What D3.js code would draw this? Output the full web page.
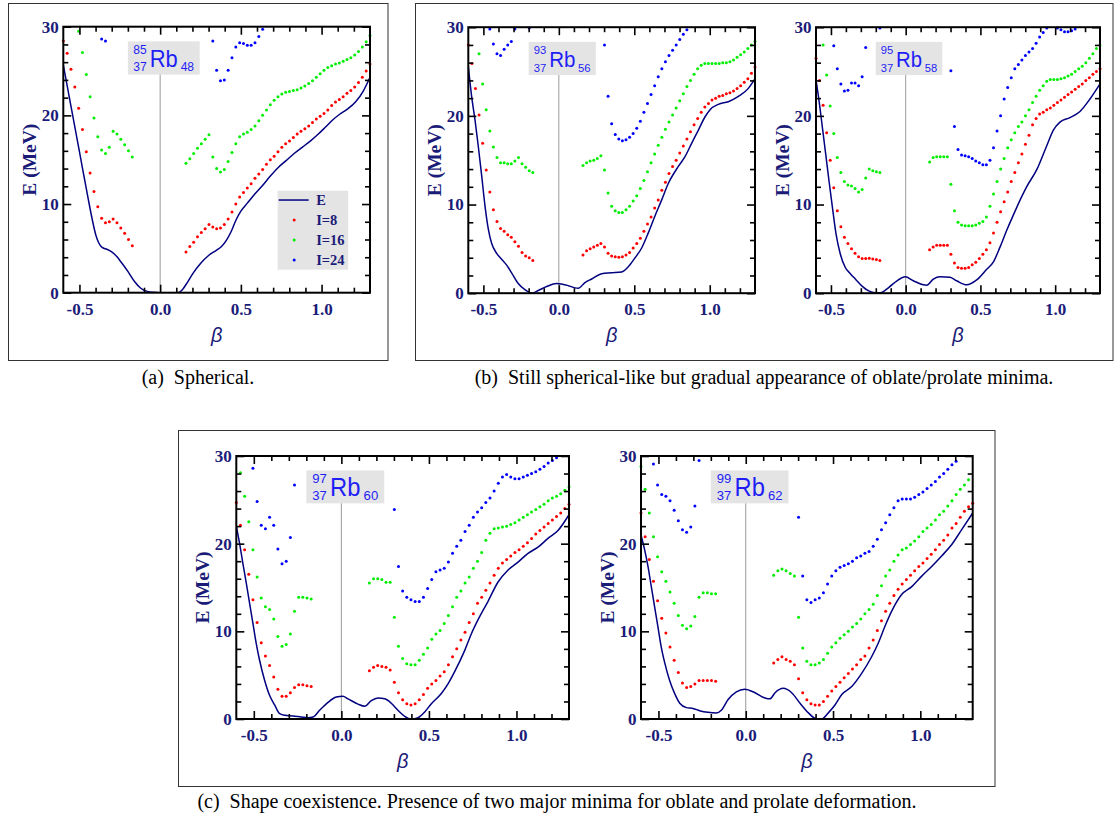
<!DOCTYPE html>
<html>
<head>
<meta charset="utf-8">
<script src="https://cdn.jsdelivr.net/npm/d3@7"></script>
<style>
  body { margin: 0; background: #fff; }
  svg { display: block; }
</style>
</head>
<body>
<script>
// ---------------------------------------------------------------
// Deformation-energy curves E(beta) and rotational bands I=8,16,24
// for the rubidium isotopes 85,93,95,97,99Rb.
// Points of the bands sit on a uniform beta grid:
//   beta_i = BETA_MIN + i * BETA_STEP   (i = 0..80)
// Each band branch is given as the first grid index and its energies.
// ---------------------------------------------------------------
const BETA_MIN = -0.6;
const BETA_STEP = 0.02375;

const betaDomain = [-0.6, 1.3];
const energyDomain = [0, 30];
const betaMajorTicks = [-0.5, 0.0, 0.5, 1.0];
const betaMinorTicks = [-0.4, -0.3, -0.2, -0.1, 0.1, 0.2, 0.3, 0.4, 0.6, 0.7, 0.8, 0.9, 1.1, 1.2];
const energyMajorTicks = [0, 10, 20, 30];
const energyMinorTicks = [2, 4, 6, 8, 12, 14, 16, 18, 22, 24, 26, 28];
const legendLabels = ["E", "I=8", "I=16", "I=24"];

// ---- 85Rb (N = 48) ----
const rb85_E = [[-0.60,25.7],[-0.55,20.8],[-0.50,15.9],[-0.45,11.0],[-0.42,8.2],[-0.40,6.6],[-0.38,5.6],[-0.36,5.1],[-0.33,4.9],[-0.30,4.6],[-0.27,4.1],[-0.24,3.4],[-0.20,2.4],[-0.16,1.3],[-0.12,0.5],[-0.08,0.15],[-0.04,0.05],[0.00,0.0],[0.05,0.0],[0.11,0.0],[0.14,0.4],[0.17,1.2],[0.20,2.1],[0.25,3.3],[0.30,4.2],[0.35,4.8],[0.38,5.2],[0.41,5.9],[0.44,6.9],[0.47,8.2],[0.50,9.2],[0.54,10.1],[0.58,11.0],[0.63,12.0],[0.68,13.1],[0.73,14.1],[0.78,14.9],[0.83,15.7],[0.88,16.4],[0.93,17.1],[0.98,17.9],[1.02,18.6],[1.07,19.5],[1.11,20.1],[1.16,20.7],[1.21,21.5],[1.26,22.8],[1.30,24.3]];
const rb85_I8 = [
  { from: 0, E: [28.4,27.0,25.2,23.2,20.8,18.4,15.9,13.5,11.4,9.7,8.4,7.9,8.0,8.3,7.9,7.3,6.7,6.0,5.3] },
  { from: 32, E: [4.6,5.2,5.7,6.3,6.8,7.2,7.7,7.4,7.2,7.3,7.7,8.3,9.1,10.0,10.8,11.3,11.8,12.3,12.9,13.4,13.9,14.5,15.0,15.4,15.9,16.4,16.8,17.1,17.5,17.9,18.2,18.5,18.8,19.2,19.6,19.9,20.2,20.6,21.1,21.5,21.8,22.1,22.5,22.8,23.2,23.7,24.3,25.0,25.8] }
];
const rb85_I16 = [
  { from: 4, E: [29.5,27.1,24.6,22.1,19.7,17.6,16.1,15.7,16.4,18.2,17.9,17.3,16.7,16.0,15.3] },
  { from: 32, E: [14.6,15.1,15.7,16.3,16.8,17.3,17.8,15.3,14.0,13.6,13.9,14.8,15.8,16.8,17.6,17.9,18.1,18.4,18.8,19.4,20.0,20.6,21.2,21.7,22.1,22.4,22.6,22.7,22.8,22.9,23.1,23.3,23.6,23.9,24.3,24.7,25.1,25.4,25.6,25.8,25.9,26.1,26.3,26.5,26.8,27.2,27.7,28.3,29.0] }
];
const rb85_I24 = [
  { from: 10, E: [28.6,28.4] },
  { from: 39, E: [28.4,25.1,23.9,24.0,25.1,26.5,27.7,28.2,28.1,27.9,27.9,28.2,28.9,29.7] }
];

// ---- 93Rb (N = 56) ----
const rb93_E = [[-0.600,25.6],[-0.578,22.2],[-0.556,19.6],[-0.534,16.6],[-0.511,13.2],[-0.489,9.8],[-0.467,7.2],[-0.445,5.6],[-0.412,4.5],[-0.378,3.8],[-0.347,3.2],[-0.313,2.3],[-0.269,1.1],[-0.225,0.4],[-0.180,0.0],[-0.137,0.3],[-0.081,0.75],[-0.015,1.1],[0.063,0.85],[0.107,0.6],[0.129,0.56],[0.173,1.2],[0.218,1.6],[0.284,2.2],[0.350,2.3],[0.416,2.4],[0.461,3.0],[0.505,4.0],[0.549,5.1],[0.593,6.8],[0.637,8.7],[0.681,10.5],[0.726,12.4],[0.792,14.3],[0.836,15.4],[0.880,16.9],[0.925,18.4],[0.969,19.9],[1.002,20.7],[1.057,21.3],[1.123,21.6],[1.190,22.2],[1.256,23.1],[1.300,24.2]];
const rb93_I8 = [
  { from: 0, E: [28.0,25.9,23.1,20.1,16.9,13.9,11.4,9.4,8.1,7.3,7.0,6.6,6.3,5.8,5.3,4.6,4.2,4.0,3.7] },
  { from: 32, E: [4.3,4.8,5.0,5.2,5.4,5.6,5.2,4.5,4.2,4.1,4.05,4.1,4.3,4.6,5.1,5.6,6.2,7.0,7.8,8.6,9.6,10.5,11.6,12.5,13.5,14.3,15.0,15.8,16.6,17.4,18.2,19.0,19.7,20.4,21.0,21.4,21.8,22.0,22.2,22.3,22.5,22.6,22.8,23.1,23.4,23.8,24.2,24.8,25.5] }
];
const rb93_I16 = [
  { from: 3, E: [27.0,23.6,20.7,18.3,16.5,15.3,14.7,14.7,14.6,14.6,14.9,15.3,14.6,14.2,13.8,13.6] },
  { from: 32, E: [14.4,14.7,14.9,15.0,15.2,15.5,13.9,11.3,9.8,9.3,9.1,9.1,9.4,9.8,10.4,11.0,11.8,12.7,13.7,14.7,15.7,16.7,17.6,18.5,19.3,20.1,20.9,21.7,22.5,23.3,24.0,24.7,25.3,25.7,25.9,25.9,25.9,25.9,25.9,26.0,26.0,26.1,26.3,26.6,26.9,27.2,27.6,28.0,28.4] }
];
const rb93_I24 = [
  { from: 6, E: [29.8,28.1,27.0,26.8,27.5,28.0,28.4,29.8] },
  { from: 17, E: [29.9] },
  { from: 38, E: [28.0,22.2,19.1,17.9,17.4,17.2,17.3,17.6,18.0,18.6,19.4,20.4,21.4,22.4,23.4,24.4,25.3,26.1,26.8,27.4,28.0,28.6,29.2,29.7] }
];

// ---- 95Rb (N = 58) ----
const rb95_E = [[-0.600,24.1],[-0.578,21.5],[-0.555,18.4],[-0.533,15.4],[-0.511,12.4],[-0.488,9.4],[-0.466,6.7],[-0.437,4.4],[-0.404,2.9],[-0.370,2.2],[-0.337,1.6],[-0.292,0.8],[-0.248,0.26],[-0.203,0.05],[-0.170,0.05],[-0.114,0.64],[-0.058,1.4],[-0.003,1.85],[0.051,1.4],[0.118,0.95],[0.140,0.9],[0.185,1.6],[0.230,1.86],[0.297,1.8],[0.341,1.4],[0.408,0.95],[0.475,1.5],[0.542,2.7],[0.586,3.5],[0.631,5.2],[0.676,7.1],[0.720,8.8],[0.765,10.5],[0.809,12.0],[0.876,13.9],[0.943,16.6],[0.988,18.4],[1.032,19.3],[1.099,19.8],[1.166,20.5],[1.233,21.9],[1.300,23.6]];
const rb95_I8 = [
  { from: 0, E: [26.5,24.0,21.2,18.1,15.0,11.9,9.3,7.5,6.3,5.6,5.0,4.5,4.1,3.9,3.9,3.95,3.85,3.8,3.7] },
  { from: 32, E: [4.9,5.2,5.4,5.4,5.4,5.4,4.4,3.4,2.9,2.8,2.8,2.9,3.2,3.5,3.9,4.4,4.9,5.7,6.8,8.0,9.2,10.3,11.4,12.6,13.6,14.7,15.7,16.8,17.8,19.0,19.7,20.2,20.4,20.7,20.9,21.2,21.5,21.8,22.1,22.4,22.7,23.0,23.3,23.6,24.0,24.3,24.7,25.0,25.3] }
];
const rb95_I16 = [
  { from: 2, E: [28.0,24.6,21.1,18.0,15.3,13.6,12.6,12.2,12.1,11.8,11.4,11.7,13.0,14.0,13.8,13.7,13.6] },
  { from: 32, E: [14.8,15.3,15.4,15.4,15.4,15.4,12.3,9.3,8.0,7.7,7.6,7.6,7.6,7.7,7.9,8.1,8.6,9.8,11.2,12.6,14.0,15.2,16.4,17.3,18.1,18.8,19.3,20.0,20.7,21.5,22.2,22.9,23.4,23.9,24.1,24.1,24.1,24.2,24.3,24.5,24.7,25.0,25.3,25.6,26.0,26.5,27.0,27.6,28.0] }
];
const rb95_I24 = [
  { from: 5, E: [27.9,25.3,23.6,22.8,22.9,23.7,23.7,23.4,24.4,27.7] },
  { from: 18, E: [29.9] },
  { from: 38, E: [25.1,18.8,16.2,15.6,15.5,15.4,15.2,14.9,14.7,14.5,14.5,15.0,16.4,18.3,20.0,21.9,23.2,24.3,25.3,25.8,26.3,26.8,27.2,27.6,28.2,28.9,29.4,29.9] },
  { from: 68, E: [29.9,29.7,29.5,29.5,29.6,29.8] }
];

// ---- 97Rb (N = 60) ----
const rb97_E = [[-0.600,22.0],[-0.581,20.0],[-0.562,17.7],[-0.543,15.5],[-0.524,13.2],[-0.505,10.9],[-0.486,8.6],[-0.467,6.7],[-0.438,4.4],[-0.410,2.7],[-0.381,1.6],[-0.352,0.6],[-0.324,0.42],[-0.276,0.35],[-0.229,0.23],[-0.191,0.15],[-0.162,0.23],[-0.124,1.0],[-0.076,1.9],[-0.029,2.5],[0.009,2.6],[0.038,2.3],[0.095,1.7],[0.133,1.45],[0.171,2.1],[0.209,2.4],[0.248,2.3],[0.285,1.8],[0.323,1.0],[0.362,0.3],[0.400,0.0],[0.438,0.15],[0.476,0.8],[0.514,1.75],[0.571,2.9],[0.609,4.0],[0.647,5.4],[0.704,7.8],[0.742,9.7],[0.780,11.3],[0.837,13.4],[0.894,15.6],[0.952,17.0],[1.009,17.9],[1.066,18.9],[1.123,19.6],[1.180,20.6],[1.237,21.5],[1.300,23.3]];
const rb97_I8 = [
  { from: 0, E: [24.7,22.1,19.3,16.5,13.6,11.0,8.7,7.2,6.1,4.8,3.4,2.6,2.6,3.0,3.6,3.9,3.9,3.8,3.7] },
  { from: 32, E: [5.5,5.9,6.1,6.0,5.9,5.6,4.2,3.0,2.2,1.75,1.6,1.75,2.2,2.8,3.5,4.0,4.4,4.9,5.4,6.2,7.1,8.0,9.0,9.9,11.0,12.0,13.2,13.9,14.7,15.5,16.4,17.2,17.8,18.2,18.6,19.0,19.3,19.7,20.1,20.6,21.1,21.5,21.9,22.3,22.7,23.1,23.5,24.0,24.5] }
];
const rb97_I16 = [
  { from: 1, E: [28.1,25.4,22.5,19.3,16.2,13.8,12.8,12.5,11.4,9.4,8.3,8.5,9.7,12.3,13.9,13.9,13.8,13.7] },
  { from: 32, E: [15.5,16.0,16.0,15.9,15.6,15.6,11.6,8.3,6.9,6.3,6.2,6.2,6.7,7.4,8.1,9.1,9.7,10.1,10.9,11.8,12.8,13.9,14.6,15.5,16.2,17.2,18.0,19.0,20.4,21.2,21.7,21.8,21.9,22.0,22.2,22.4,22.7,23.0,23.3,23.6,23.9,24.2,24.5,24.9,25.2,25.4,25.7,26.1,26.5] }
];
const rb97_I24 = [
  { from: 4, E: [28.6,24.8,22.1,21.7,23.0,22.1,19.4,17.7,18.0,20.7,26.7] },
  { from: 38, E: [23.9,17.4,14.6,13.9,13.6,13.4,13.4,13.9,14.9,15.9,16.8,17.0,17.2,17.9,18.9,19.7,20.4,21.4,22.1,23.0,23.6,24.1,24.7,25.2,26.0,26.9,27.6,27.9,27.6,27.4,27.4,27.6,27.8,28.0,28.2,28.5,28.8,29.2,29.5,29.8] }
];

// ---- 99Rb (N = 62) ----
const rb99_E = [[-0.600,21.0],[-0.579,19.3],[-0.560,17.4],[-0.541,15.1],[-0.522,12.8],[-0.503,10.5],[-0.484,8.2],[-0.464,6.4],[-0.436,4.4],[-0.407,2.9],[-0.378,1.8],[-0.340,1.3],[-0.302,1.2],[-0.264,0.95],[-0.217,0.76],[-0.169,0.68],[-0.140,1.0],[-0.102,2.2],[-0.054,3.1],[-0.006,3.4],[0.053,3.0],[0.110,2.4],[0.139,2.3],[0.168,3.0],[0.215,3.5],[0.263,3.0],[0.311,1.8],[0.359,0.7],[0.397,0.1],[0.435,0.0],[0.473,0.7],[0.511,1.6],[0.550,2.8],[0.607,3.7],[0.664,5.2],[0.721,7.1],[0.760,8.7],[0.798,10.6],[0.836,12.3],[0.893,14.2],[0.951,15.1],[1.008,16.3],[1.065,17.4],[1.122,18.6],[1.180,19.9],[1.237,21.6],[1.300,23.5]];
const rb99_I8 = [
  { from: 0, E: [23.5,20.8,18.2,15.7,13.5,11.5,9.8,8.2,6.7,5.3,4.1,3.6,3.7,4.0,4.4,4.4,4.4,4.4,4.3] },
  { from: 32, E: [6.4,6.8,7.1,6.8,6.6,6.2,4.6,3.0,2.2,1.75,1.6,1.6,2.0,2.6,3.2,3.7,4.2,4.7,5.2,5.7,6.2,6.8,7.2,8.1,9.0,10.1,11.2,12.3,13.2,14.1,14.8,15.4,15.9,16.4,16.9,17.4,17.8,18.3,18.8,19.3,19.9,20.4,21.0,21.8,22.3,23.0,23.7,24.2,24.6] }
];
const rb99_I16 = [
  { from: 0, E: [28.8,26.2,23.5,20.8,18.5,16.8,15.7,14.5,13.2,11.8,10.7,10.3,10.6,11.7,13.9,14.4,14.4,14.3,14.3] },
  { from: 32, E: [16.4,16.9,17.1,16.9,16.6,16.3,11.6,8.1,6.6,6.2,6.2,6.4,6.8,7.5,8.2,8.7,9.2,9.6,10.0,10.5,10.9,11.4,12.0,12.5,13.1,14.1,15.2,16.3,17.0,18.0,18.7,19.3,19.5,19.9,20.3,20.8,21.4,21.8,22.2,22.7,23.3,23.7,24.3,24.9,25.6,26.2,26.7,27.3] }
];
const rb99_I24 = [
  { from: 3, E: [29.1,26.7,25.6,25.4,24.9,23.8,22.6,21.6,21.3,21.9,24.3,29.5] },
  { from: 38, E: [23.0,16.3,13.6,13.3,13.6,13.8,14.4,15.4,16.3,16.9,17.3,17.5,17.7,18.0,18.4,18.6,18.9,19.1,19.7,20.5,21.6,22.4,23.3,24.1,24.9,25.1,25.1,25.1,25.3,25.6,25.9,26.3,26.7,27.1,27.6,28.0,28.5,29.0,29.4] }
];

const captions = [
  "(a)  Spherical.",
  "(b)  Still spherical-like but gradual appearance of oblate/prolate minima.",
  "(c)  Shape coexistence. Presence of two major minima for oblate and prolate deformation."
];

// ---------------------------------------------------------------
// Layout and style
// ---------------------------------------------------------------
const W = 1116, H = 818;
const NAVY_TEXT = "#1b1b78";
const CURVE_COLOR = "#000080";
const BAND_COLORS = { I8: "#ff0000", I16: "#00ee00", I24: "#0000ff" };
const LABEL_BLUE = "#1f1ff5";
const BOX_GRAY = "#e4e4e4";
const SERIF = "'Liberation Serif', 'Times New Roman', serif";
const SANS = "'Liberation Sans', Arial, sans-serif";

const panels = [
  { nuc: { A: "85", Z: "37", N: "48" }, E: rb85_E, I8: rb85_I8, I16: rb85_I16, I24: rb85_I24, rect: [63.3, 26.7, 306.7, 266], legend: true },
  { nuc: { A: "93", Z: "37", N: "56" }, E: rb93_E, I8: rb93_I8, I16: rb93_I16, I24: rb93_I24, rect: [468.3, 27.2, 286.7, 266] },
  { nuc: { A: "95", Z: "37", N: "58" }, E: rb95_E, I8: rb95_I8, I16: rb95_I16, I24: rb95_I24, rect: [816.0, 27.2, 284.0, 266] },
  { nuc: { A: "97", Z: "37", N: "60" }, E: rb97_E, I8: rb97_I8, I16: rb97_I16, I24: rb97_I24, rect: [236.3, 456.0, 332.7, 263] },
  { nuc: { A: "99", Z: "37", N: "62" }, E: rb99_E, I8: rb99_I8, I16: rb99_I16, I24: rb99_I24, rect: [641.0, 456.0, 331.7, 263] }
];

const frames = [
  { x: 8.5, y: 3.5, w: 379.5, h: 357 },
  { x: 415.5, y: 3.5, w: 697.5, h: 357 },
  { x: 178.5, y: 430.5, w: 816.5, h: 356 }
];
const captionPos = [
  { x: 198, y: 384 },
  { x: 764, y: 384 },
  { x: 557, y: 808 }
];

const svg = d3.select("body").append("svg")
  .attr("width", W).attr("height", H)
  .attr("viewBox", `0 0 ${W} ${H}`);

svg.append("rect").attr("width", W).attr("height", H).attr("fill", "#fff");

// outer frames around each sub-figure
svg.selectAll("rect.frame").data(frames).join("rect")
  .attr("class", "frame")
  .attr("x", d => d.x).attr("y", d => d.y)
  .attr("width", d => d.w).attr("height", d => d.h)
  .attr("fill", "none").attr("stroke", "#333").attr("stroke-width", 1);

// sub-figure captions
svg.selectAll("text.caption").data(captions).join("text")
  .attr("class", "caption")
  .attr("x", (d, i) => captionPos[i].x)
  .attr("y", (d, i) => captionPos[i].y)
  .attr("text-anchor", "middle")
  .style("white-space", "pre")
  .attr("font-family", SERIF)
  .attr("font-size", 20)
  .attr("fill", "#000")
  .text(d => d);

function bandPoints(branches) {
  const pts = [];
  branches.forEach(b => {
    b.E.forEach((e, k) => {
      pts.push([BETA_MIN + (b.from + k) * BETA_STEP, e]);
    });
  });
  return pts.filter(p => p[1] <= 30 && p[1] >= 0);
}

panels.forEach((p, pi) => {
  const [px, py, pw, ph] = p.rect;
  const x = d3.scaleLinear().domain(betaDomain).range([px, px + pw]);
  const y = d3.scaleLinear().domain(energyDomain).range([py + ph, py]);
  const g = svg.append("g");

  const clipId = "clip" + pi;
  g.append("clipPath").attr("id", clipId)
    .append("rect").attr("x", px).attr("y", py).attr("width", pw).attr("height", ph);

  // nucleus label box (placed in data coordinates)
  const bx0 = x(-0.2), bx1 = x(0.245), by0 = y(28.35), by1 = y(24.6);
  const bw = bx1 - bx0, bh = by1 - by0;
  g.append("rect").attr("x", bx0).attr("y", by0).attr("width", bw).attr("height", bh)
    .attr("fill", BOX_GRAY);

  // beta = 0 reference line
  g.append("line")
    .attr("x1", x(0)).attr("x2", x(0))
    .attr("y1", y(0)).attr("y2", by1)
    .attr("stroke", "#9a9a9a").attr("stroke-width", 1);

  const small = bw * 0.168, big = bw * 0.33;
  const lab = g.append("g").attr("font-family", SANS).attr("fill", LABEL_BLUE);
  lab.append("text").attr("x", bx0 + bw * 0.075).attr("y", by0 + bh * 0.37).attr("font-size", small).text(p.nuc.A);
  lab.append("text").attr("x", bx0 + bw * 0.075).attr("y", by0 + bh * 0.9).attr("font-size", small).text(p.nuc.Z);
  lab.append("text").attr("x", bx0 + bw * 0.305).attr("y", by0 + bh * 0.77).attr("font-size", big)
    .attr("textLength", bw * 0.39).attr("lengthAdjust", "spacingAndGlyphs").text("Rb");
  lab.append("text").attr("x", bx0 + bw * 0.735).attr("y", by0 + bh * 0.9).attr("font-size", small).text(p.nuc.N);

  // energy curve
  const line = d3.line().x(d => x(d[0])).y(d => y(d[1])).curve(d3.curveMonotoneX);
  g.append("path").datum(p.E)
    .attr("clip-path", `url(#${clipId})`)
    .attr("d", line).attr("fill", "none")
    .attr("stroke", CURVE_COLOR).attr("stroke-width", 1.5);

  // rotational bands
  ["I8", "I16", "I24"].forEach(key => {
    g.append("g").selectAll("circle").data(bandPoints(p[key])).join("circle")
      .attr("cx", d => x(d[0])).attr("cy", d => y(d[1])).attr("r", 1.5)
      .attr("fill", BAND_COLORS[key]);
  });

  // axes with inward ticks on all four sides
  const fmt = d => d.toFixed(1);
  const styleAxis = sel => {
    sel.select(".domain").remove();
    sel.selectAll(".tick line").attr("stroke", "#000").attr("stroke-width", 1.6);
    sel.selectAll(".tick text")
      .attr("font-family", SERIF)
      .attr("font-weight", "bold").attr("font-size", 17).attr("fill", NAVY_TEXT);
  };
  g.append("g").attr("transform", `translate(0,${py + ph})`)
    .call(d3.axisBottom(x).tickValues(betaMajorTicks).tickFormat(fmt).tickSizeInner(-8).tickSizeOuter(0).tickPadding(10))
    .call(styleAxis);
  g.append("g").attr("transform", `translate(0,${py + ph})`)
    .call(d3.axisBottom(x).tickValues(betaMinorTicks).tickFormat("").tickSizeInner(-5).tickSizeOuter(0))
    .call(styleAxis);
  g.append("g").attr("transform", `translate(0,${py})`)
    .call(d3.axisTop(x).tickValues(betaMajorTicks).tickFormat("").tickSizeInner(-8).tickSizeOuter(0))
    .call(styleAxis);
  g.append("g").attr("transform", `translate(0,${py})`)
    .call(d3.axisTop(x).tickValues(betaMinorTicks).tickFormat("").tickSizeInner(-5).tickSizeOuter(0))
    .call(styleAxis);
  g.append("g").attr("transform", `translate(${px},0)`)
    .call(d3.axisLeft(y).tickValues(energyMajorTicks).tickFormat(d3.format("d")).tickSizeInner(-8).tickSizeOuter(0).tickPadding(4.5))
    .call(styleAxis);
  g.append("g").attr("transform", `translate(${px},0)`)
    .call(d3.axisLeft(y).tickValues(energyMinorTicks).tickFormat("").tickSizeInner(-5).tickSizeOuter(0))
    .call(styleAxis);
  g.append("g").attr("transform", `translate(${px + pw},0)`)
    .call(d3.axisRight(y).tickValues(energyMajorTicks).tickFormat("").tickSizeInner(-8).tickSizeOuter(0))
    .call(styleAxis);
  g.append("g").attr("transform", `translate(${px + pw},0)`)
    .call(d3.axisRight(y).tickValues(energyMinorTicks).tickFormat("").tickSizeInner(-5).tickSizeOuter(0))
    .call(styleAxis);

  // plot frame
  g.append("rect").attr("x", px).attr("y", py).attr("width", pw).attr("height", ph)
    .attr("fill", "none").attr("stroke", "#000").attr("stroke-width", 2);

  // axis titles
  g.append("text")
    .attr("transform", `translate(${px - 34},${py + ph / 2}) rotate(-90)`)
    .attr("text-anchor", "middle").attr("dominant-baseline", "central")
    .attr("font-family", SERIF)
    .attr("font-weight", "bold").attr("font-size", 19.5).attr("fill", NAVY_TEXT)
    .text("E (MeV)");
  g.append("text")
    .attr("x", px + pw / 2).attr("y", py + ph + 49)
    .attr("text-anchor", "middle")
    .attr("font-family", SANS)
    .attr("font-style", "italic").attr("font-size", 20).attr("fill", NAVY_TEXT)
    .text("β");

  // legend
  if (p.legend) {
    const lx = x(0.728), lx1 = x(1.165), ly = y(11.5), ly1 = y(2.6);
    const lg = g.append("g");
    lg.append("rect").attr("x", lx).attr("y", ly).attr("width", lx1 - lx).attr("height", ly1 - ly)
      .attr("fill", BOX_GRAY);
    const rows = [
      { label: legendLabels[0], kind: "line" },
      { label: legendLabels[1], kind: "I8" },
      { label: legendLabels[2], kind: "I16" },
      { label: legendLabels[3], kind: "I24" }
    ];
    rows.forEach((r, k) => {
      const cy = ly + 9.3 + k * 20;
      if (r.kind === "line") {
        lg.append("line").attr("x1", lx + 1).attr("x2", lx + 31).attr("y1", cy).attr("y2", cy)
          .attr("stroke", CURVE_COLOR).attr("stroke-width", 1.5);
      } else {
        lg.append("circle").attr("cx", lx + 16.5).attr("cy", cy).attr("r", 1.5)
          .attr("fill", BAND_COLORS[r.kind]);
      }
      lg.append("text").attr("x", lx + 38.5).attr("y", cy + 5)
        .attr("font-family", SERIF)
        .attr("font-weight", "bold").attr("font-size", 14.5).attr("fill", NAVY_TEXT)
        .text(r.label);
    });
  }
});
</script>
</body>
</html>
